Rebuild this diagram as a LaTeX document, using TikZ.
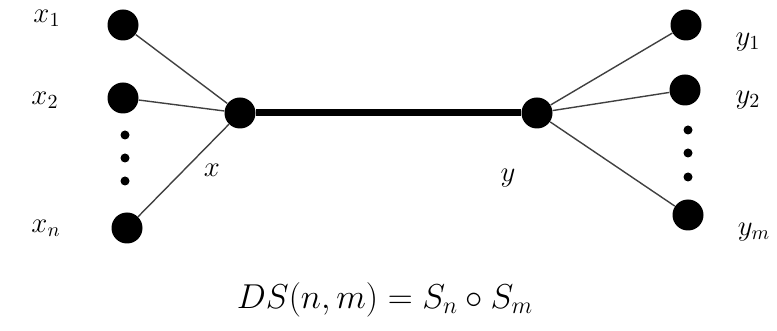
\documentclass[tikz,border=0pt]{standalone}
\usetikzlibrary{positioning}
\tikzset{
  vertex/.style={circle, fill=black, inner sep=0pt, minimum size=15.5pt},
  dotv/.style={circle, fill=black, inner sep=0pt, minimum size=4.5pt},
  edge/.style={line width=0.7pt, color=black!75},
  lbl/.style={font=\Large}
}
\begin{document}
\begin{tikzpicture}[x=0.5pt, y=-0.5pt]
	\useasboundingbox (0,0) rectangle (777,331);
	% Hai tâm x, y
	\node[vertex] (x) at (240,113) {};
	\node[vertex] (y) at (537,113) {};
	\draw[line width=3.5pt] (x) -- (y);
	
	% Các lá bên trái
	\node[vertex] (x1) at (123,25) {};
	\node[vertex] (x2) at (123,98) {};
	\node[vertex] (xn) at (127,228) {};
	\node[dotv] (dx1) at (125,135) {};
	\node[dotv] (dx2) at (125,158) {};
	\node[dotv] (dx3) at (125,181) {};
	\draw[edge] (x1) -- (x);
	\draw[edge] (x2) -- (x);
	\draw[edge] (xn) -- (x);
	
	% Các lá bên phải
	\node[vertex] (y1) at (686,25) {};
	\node[vertex] (y2) at (685,90) {};
	\node[vertex] (ym) at (688,215) {};
	\node[dotv] (dy1) at (688,130) {};
	\node[dotv] (dy2) at (688,153) {};
	\node[dotv] (dy3) at (688,177) {};
	\draw[edge] (y) -- (y1);
	\draw[edge] (y) -- (y2);
	\draw[edge] (y) -- (ym);
	
	% Nhãn
	\node[lbl] (lx1) at (47,18) {$x_1$};
	\node[lbl] (lx2) at (45,100) {$x_2$};
	\node[lbl] (lxn) at (46,228) {$x_n$};
	\node[lbl] (lx) at (212,170) {$x$};
	\node[lbl] (ly) at (508,178) {$y$};
	\node[lbl] (ly1) at (748,42) {$y_1$};
	\node[lbl] (ly2) at (748,100) {$y_2$};
	\node[lbl] (lym) at (754,232) {$y_m$};
	
	\node[font=\LARGE] (ds) at (385,300) {$DS(n,m) = S_n \circ S_m$};
\end{tikzpicture}
\end{document}
